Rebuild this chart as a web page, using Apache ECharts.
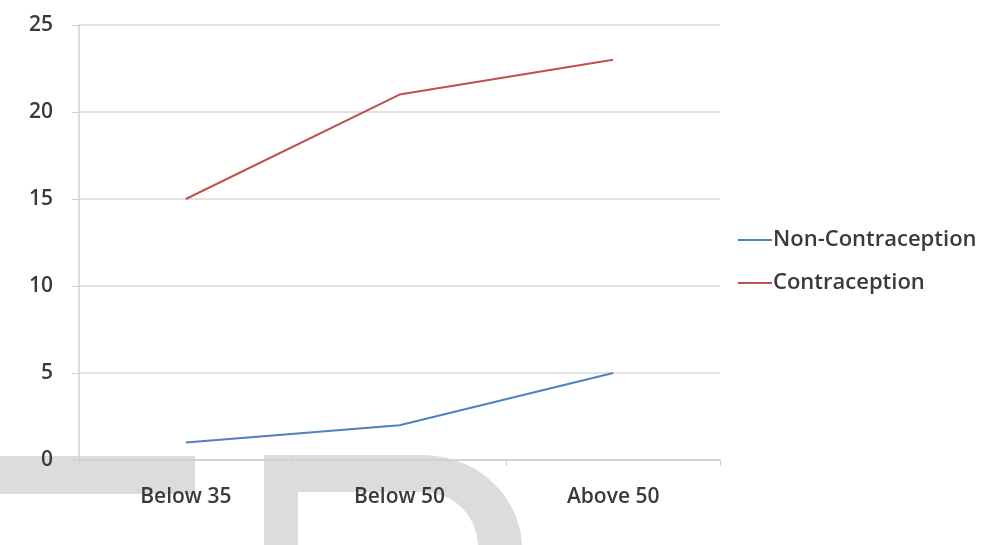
<!DOCTYPE html>
<html><head><meta charset="utf-8">
<script src="https://cdn.jsdelivr.net/npm/echarts@6/dist/echarts.min.js"></script>
<style>html,body{margin:0;padding:0;background:#fff}#c{width:984px;height:545px}</style>
</head><body><div id="c"></div>
<script>
const categories = ['Below 35', 'Below 50', 'Above 50'];
const nonContraception = [1, 2, 5];
const contraception = [15, 21, 23];
const seriesNames = ['Non-Contraception', 'Contraception'];

// watermark outline helper (decoration only)
function bez(p0, p1, p2, p3, n) {
  const out = [];
  for (let i = 0; i <= n; i++) {
    const t = i / n, u = 1 - t;
    out.push([
      u*u*u*p0[0] + 3*u*u*t*p1[0] + 3*u*t*t*p2[0] + t*t*t*p3[0],
      u*u*u*p0[1] + 3*u*u*t*p1[1] + 3*u*t*t*p2[1] + t*t*t*p3[1]
    ]);
  }
  return out;
}
const dOuter = bez([420,455],[482,455],[520,500],[522,545],24);
const dInner = bez([478,545],[476,515],[455,492],[420,492],24);
const dPoints = [[264,455]].concat(dOuter, dInner, [[298,492],[298,545],[264,545]]);

const chart = echarts.init(document.getElementById('c'));
const font = '"Open Sans", Lato, sans-serif';
const txt = { fontFamily: font, fontSize: 21, fontWeight: 600, color: '#3a3a3a' };
chart.setOption({
  animation: false,
  backgroundColor: '#fff',
  grid: { left: 79, right: 264, top: 25, bottom: 85 },
  legend: {
    orient: 'vertical', left: 733, top: 224, itemGap: 21,
    icon: 'rect', itemWidth: 34, itemHeight: 2,
    textStyle: Object.assign({ padding: [0,0,0,-4] }, txt, { fontSize: 22 }),
    data: seriesNames
  },
  xAxis: {
    type: 'category', data: categories, boundaryGap: true,
    axisLine: { lineStyle: { color: '#d0d0d0', width: 1.5 } },
    axisTick: { show: true, length: 6, lineStyle: { color: '#d0d0d0' } },
    axisLabel: Object.assign({ margin: 27 }, txt)
  },
  yAxis: {
    type: 'value', min: 0, max: 25, interval: 5,
    axisLine: { show: true, lineStyle: { color: '#d0d0d0', width: 1.5 } },
    axisTick: { show: true, length: 7, lineStyle: { color: '#d0d0d0' } },
    splitLine: { lineStyle: { color: '#d9d9d9', width: 1.5 } },
    axisLabel: Object.assign({ margin: 26 }, txt)
  },
  graphic: [
    { type: 'rect', z: -10, shape: { x: 0, y: 456, width: 195, height: 38 }, style: { fill: '#dcdcdc' } },
    { type: 'polygon', z: -10, shape: { points: dPoints }, style: { fill: '#dcdcdc' } }
  ],
  series: [
    { name: seriesNames[0], type: 'line', data: nonContraception, showSymbol: false, symbol: 'none',
      lineStyle: { color: '#4F81BD', width: 2 }, itemStyle: { color: '#4F81BD' } },
    { name: seriesNames[1], type: 'line', data: contraception, showSymbol: false, symbol: 'none',
      lineStyle: { color: '#C0504D', width: 2 }, itemStyle: { color: '#C0504D' } }
  ]
});
</script></body></html>
